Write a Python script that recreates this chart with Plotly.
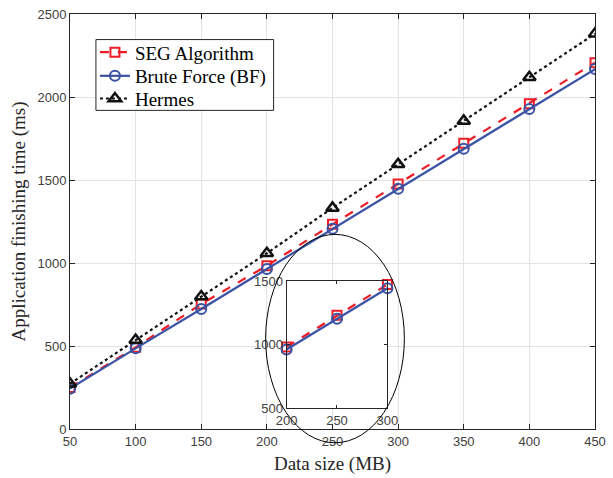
import plotly.graph_objects as go

# ---- data ----
data_size = [50, 100, 150, 200, 250, 300, 350, 400, 450]
seg_alg = [250, 492, 753, 984, 1233, 1476, 1721, 1960, 2207]
brute_force = [243, 486, 723, 964, 1206, 1447, 1688, 1927, 2168]
hermes = [273, 536, 798, 1059, 1332, 1595, 1856, 2119, 2381]

series_names = ["SEG Algorithm", "Brute Force (BF)", "Hermes"]
x_ticks = [50, 100, 150, 200, 250, 300, 350, 400, 450]
y_ticks = [0, 500, 1000, 1500, 2000, 2500]
inset_x_ticks = [200, 250, 300]
inset_y_ticks = [500, 1000, 1500]
inset_range = (200, 300)

RED = "#ee1c25"
BLUE = "#3a53a4"
BLACK = "#111111"
AX = "#262626"
TICKFONT = dict(family="Liberation Sans, Arial", size=13, color="#404040")
SERIF = "Liberation Serif, Times New Roman"

seg_style = dict(line=dict(color=RED, width=2.2, dash="dash"),
                 marker=dict(symbol="square-open", size=9, color=RED, line=dict(width=2, color=RED)))
bf_style = dict(line=dict(color=BLUE, width=2.2),
                marker=dict(symbol="circle-open", size=10, color=BLUE, line=dict(width=2, color=BLUE)))
her_style = dict(line=dict(color=BLACK, width=2.2, dash="dot"),
                 marker=dict(symbol="triangle-up-open", size=11, color=BLACK, line=dict(width=2.5, color=BLACK)))

fig = go.Figure()
fig.add_trace(go.Scatter(x=data_size, y=seg_alg, name=series_names[0], mode="lines+markers",
                         legend="legend", **seg_style))
fig.add_trace(go.Scatter(x=data_size, y=brute_force, name=series_names[1], mode="lines+markers",
                         legend="legend2", **bf_style))
fig.add_trace(go.Scatter(x=data_size, y=hermes, name=series_names[2], mode="lines+markers",
                         legend="legend3", **her_style))

# inset (zoom of 200-300)
sel = [i for i, v in enumerate(data_size) if inset_range[0] <= v <= inset_range[1]]
ix = [data_size[i] for i in sel]
fig.add_trace(go.Scatter(x=ix, y=[seg_alg[i] for i in sel], mode="lines+markers", showlegend=False,
                         xaxis="x2", yaxis="y2", cliponaxis=False, **seg_style))
fig.add_trace(go.Scatter(x=ix, y=[brute_force[i] for i in sel], mode="lines+markers", showlegend=False,
                         xaxis="x2", yaxis="y2", cliponaxis=False, **bf_style))

legend_common = dict(xanchor="left", yanchor="middle", x=0.0475,
                     font=dict(family=SERIF, size=19, color="black"),
                     bgcolor="rgba(0,0,0,0)", borderwidth=0)

fig.update_layout(
    width=613, height=478,
    margin=dict(l=70, r=17, t=7, b=49),
    paper_bgcolor="white", plot_bgcolor="white",
    showlegend=True,
    legend=dict(y=0.9076, **legend_common),
    legend2=dict(y=0.8507, **legend_common),
    legend3=dict(y=0.796, **legend_common),
    xaxis=dict(
        range=[50, 450], tickvals=x_ticks, ticks="inside", ticklen=5,
        showline=True, linecolor=AX, linewidth=1, mirror="ticks", tickcolor=AX,
        showgrid=True, gridcolor="#e3e3e3", zeroline=False,
        tickfont=TICKFONT,
        title=dict(text="Data size (MB)", font=dict(family=SERIF, size=19, color="#262626"), standoff=9),
    ),
    yaxis=dict(
        range=[0, 2500], tickvals=y_ticks, ticks="inside", ticklen=5,
        showline=True, linecolor=AX, linewidth=1, mirror="ticks", tickcolor=AX,
        showgrid=True, gridcolor="#e3e3e3", zeroline=False,
        tickfont=TICKFONT,
        title=dict(text="Application finishing time (ms)", font=dict(family=SERIF, size=19, color="#262626"), standoff=6),
    ),
    xaxis2=dict(
        domain=[0.4125, 0.6046], anchor="y2", range=list(inset_range), tickvals=inset_x_ticks,
        ticks="inside", ticklen=3, showline=True, linecolor=AX, linewidth=1, mirror="ticks",
        tickcolor=AX, showgrid=False, zeroline=False, tickfont=TICKFONT, ticklabelstandoff=0,
    ),
    yaxis2=dict(
        domain=[0.0498, 0.3555], anchor="x2", range=[inset_y_ticks[0], inset_y_ticks[-1]], tickvals=inset_y_ticks,
        ticks="inside", ticklen=3, showline=True, linecolor=AX, linewidth=1, mirror="ticks",
        tickcolor=AX, showgrid=False, zeroline=False, tickfont=TICKFONT, ticklabelstandoff=0,
    ),
    shapes=[
        dict(type="rect", xref="x2", yref="y2", x0=inset_range[0], x1=inset_range[1],
             y0=inset_y_ticks[0], y1=inset_y_ticks[-1], fillcolor="white", line=dict(width=0), layer="below"),
        dict(type="circle", xref="paper", yref="paper", x0=0.3726, x1=0.6369, y0=-0.0332, y1=0.469,
             line=dict(color="black", width=1), layer="above"),
        # legend frame
        dict(type="rect", xref="paper", yref="paper", x0=0.0494, x1=0.3878, y0=0.7678, y1=0.9384,
             fillcolor="white", line=dict(color=AX, width=1), layer="above"),
    ],
)

fig.write_html("out.html")
